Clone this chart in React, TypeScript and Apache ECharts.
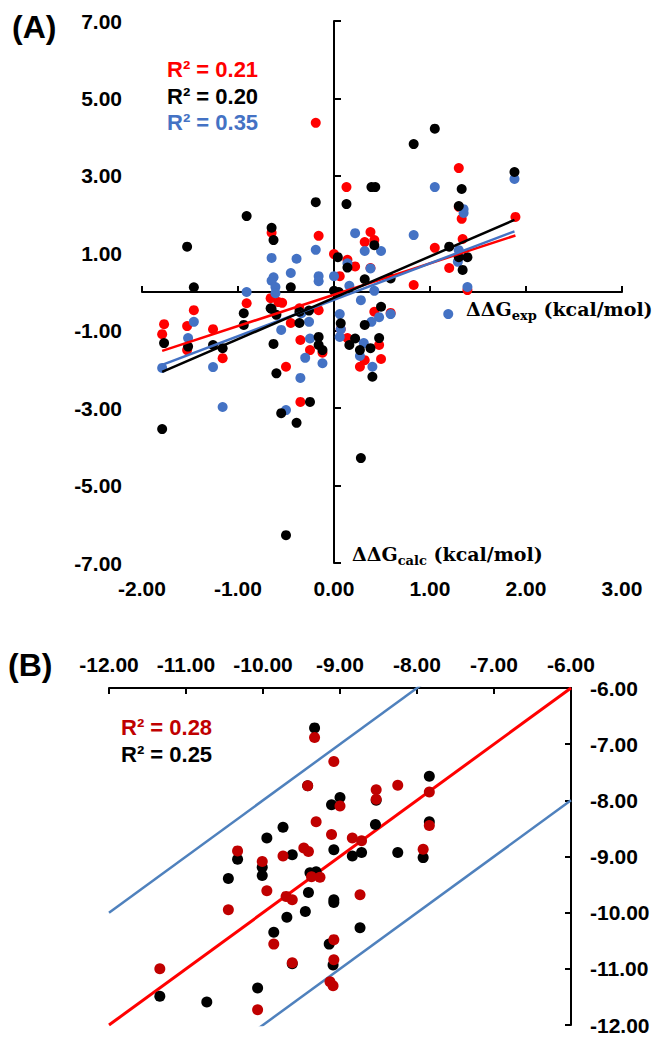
import React, { useEffect, useRef } from "react";
import * as echarts from "echarts";

// ---------- Panel A data ----------
const aXTicks = [-2, -1, 0, 1, 2, 3];
const aYTicks = [-7, -5, -3, -1, 1, 3, 5, 7];

const aRed: [number, number][] = [
  [-0.19, 4.37], [-0.65, 1.53], [-0.16, 1.45], [0.0, 0.98], [1.3, 3.2], [0.13, 2.71],
  [1.3, 2.2], [1.33, 1.89], [1.89, 1.94], [0.38, 1.55], [0.32, 1.29], [0.42, 1.34],
  [1.05, 1.14], [1.34, 1.37], [0.14, 0.83], [0.22, 0.66], [0.38, 0.62], [0.06, 0.41],
  [0.83, 0.18], [1.39, 0.05], [1.2, 0.62], [-0.91, -0.29], [-1.46, -0.47], [-1.77, -0.83],
  [-1.79, -1.09], [-1.53, -0.88], [-1.53, -1.5], [-1.26, -0.96], [-1.16, -1.71],
  [-0.66, -0.16], [-0.58, -0.26], [-0.54, -0.28], [-0.45, -0.8], [-0.5, -1.93],
  [-0.35, -2.84], [-0.35, -1.24], [-0.25, -1.5], [-0.12, -1.57], [-0.16, -0.47],
  [0.07, -0.96], [0.42, -0.51], [0.59, -0.54], [0.14, -1.19], [0.27, -1.93],
  [0.32, -1.76], [0.47, -1.37], [0.49, -1.73], [-0.36, -0.42], [0.16, -1.24],
];
const aBlack: [number, number][] = [
  [-0.19, 2.32], [-0.91, 1.96], [-1.53, 1.17], [-1.46, 0.12], [-0.65, 1.66], [-0.63, 1.34],
  [0.04, 0.9], [-0.45, 0.12], [1.05, 4.22], [0.83, 3.82], [1.88, 3.1], [0.13, 2.27],
  [0.39, 2.71], [0.43, 2.71], [1.33, 2.66], [1.3, 2.22], [0.42, 1.21], [1.2, 1.17],
  [1.3, 0.9], [1.39, 0.9], [1.34, 0.57], [0.14, 0.63], [0.32, 0.33], [0.59, 0.35],
  [-0.94, -0.55], [-0.94, -0.85], [-1.77, -1.32], [-1.52, -1.41], [-1.26, -1.37],
  [-1.16, -1.45], [-1.79, -3.54], [-0.66, -0.42], [-0.6, -0.59], [-0.63, -1.34],
  [-0.6, -2.1], [-0.25, -2.84], [-0.55, -3.13], [-0.39, -3.38], [-0.5, -6.28],
  [-0.16, -1.16], [-0.16, -1.37], [-0.12, -1.5], [-0.26, -0.48], [-0.36, -0.8],
  [-0.36, -0.51], [0.07, -0.81], [0.49, -0.38], [0.32, -0.85], [0.16, -1.37],
  [0.22, -1.2], [0.27, -1.5], [0.38, -1.45], [0.4, -2.19], [0.47, -1.19], [0.28, -4.29],
  [0.0, 0.03], [0.05, 0.0], [-0.65, -0.44],
];
const aBlue: [number, number][] = [
  [-0.19, 1.09], [-0.65, 0.88], [-0.39, 0.86], [-0.45, 0.49], [-0.63, 0.38], [-0.65, 0.29],
  [-0.16, 0.41], [-0.16, 0.28], [0.0, 0.41], [-0.61, 0.13], [-0.61, -0.03], [-0.91, 0.0],
  [1.88, 2.92], [1.05, 2.71], [1.35, 2.14], [1.35, 2.04], [0.22, 1.52], [0.83, 1.47],
  [0.32, 1.06], [0.49, 1.06], [1.3, 1.08], [1.29, 0.78], [0.14, 0.74], [0.38, 0.61],
  [0.16, 0.16], [0.42, 0.03], [1.39, 0.13], [1.19, -0.57], [-1.46, -0.77], [-1.79, -1.96],
  [-1.52, -1.19], [-1.26, -1.94], [-1.16, -2.97], [-0.55, -0.98], [-0.35, -2.22],
  [-0.5, -3.05], [-0.25, -1.2], [-0.3, -1.7], [-0.12, -1.84], [-0.26, -0.77],
  [-0.34, -0.55], [0.06, -0.57], [0.07, -0.96], [0.06, -1.16], [0.27, -1.65],
  [0.31, -1.32], [0.4, -1.93], [0.59, -0.57], [0.47, -0.65], [0.39, -0.77],
  [0.28, -0.21],
];
// trend lines [slope, intercept]
const aTrendRed = [0.81, -0.07];
const aTrendBlack = [1.07, -0.15];
const aTrendBlue = [0.94, -0.2];
const aR2 = ["0.21", "0.20", "0.35"];

// ---------- Panel B data ----------
const bTicks = [-12, -11, -10, -9, -8, -7, -6];
const bRed: [number, number][] = [
  [-9.33, -6.88], [-9.08, -7.31], [-9.42, -7.74], [-9.0, -8.1], [-8.53, -7.81],
  [-8.53, -7.98], [-7.84, -7.85], [-8.25, -7.73], [-7.84, -8.45], [-7.92, -8.87],
  [-8.72, -8.72], [-8.84, -8.67], [-9.11, -8.61], [-9.31, -8.38], [-10.33, -8.9],
  [-10.01, -9.09], [-10.45, -9.95], [-9.74, -8.99], [-9.47, -8.85], [-9.41, -8.91],
  [-9.37, -9.36], [-9.26, -9.37], [-9.95, -9.61], [-9.7, -9.71], [-9.62, -9.77],
  [-8.74, -9.68], [-9.86, -10.56], [-9.08, -10.48], [-9.62, -10.89], [-9.08, -10.84],
  [-9.13, -11.23], [-9.09, -11.3], [-11.34, -11.0], [-10.07, -11.73],
];
const bBlack: [number, number][] = [
  [-9.33, -6.71], [-9.42, -7.74], [-9.0, -7.95], [-9.11, -8.08], [-8.53, -8.0],
  [-7.84, -7.57], [-8.54, -8.43], [-7.84, -8.38], [-7.92, -9.02], [-8.25, -8.93],
  [-8.84, -8.99], [-8.72, -8.93], [-9.08, -8.88], [-9.74, -8.48], [-9.95, -8.67],
  [-10.33, -9.05], [-10.01, -9.19], [-10.01, -9.34], [-10.45, -9.39], [-9.62, -8.97],
  [-9.39, -9.29], [-9.31, -9.27], [-9.41, -9.64], [-9.08, -9.77], [-9.08, -9.82],
  [-9.69, -10.08], [-9.45, -9.98], [-9.86, -10.35], [-8.74, -10.27], [-9.14, -10.56],
  [-9.62, -10.91], [-9.09, -10.93], [-11.34, -11.49], [-10.73, -11.59], [-10.07, -11.34],
];
const bLineOffsets = [0, 2, -2]; // y = x + offset
const bR2 = ["0.28", "0.25"];

const RED = "#FF0000";
const BLUE = "#4472C4";
const DARKRED = "#C00000";
const LINEBLUE = "#4F81BD";
const FONT = "Liberation Sans";

function trend(data: [number, number][], t: number[]) {
  const xs = data.map((d) => d[0]);
  const x0 = Math.min(...xs);
  const x1 = Math.max(...xs);
  return [
    [x0, t[0] * x0 + t[1]],
    [x1, t[0] * x1 + t[1]],
  ];
}

const labelStyle = {
  fontFamily: FONT,
  fontWeight: "bold" as const,
  fontSize: 21,
  color: "#000",
  formatter: (v: number) => v.toFixed(2),
};

const titleRich = {
  m: { fontFamily: "DejaVu Serif", fontWeight: "bold", fontSize: 19, lineHeight: 27, fill: "#000" },
  s: { fontFamily: "DejaVu Serif", fontWeight: "bold", fontSize: 13, verticalAlign: "bottom", fill: "#000" },
};

export default function App() {
  const ref = useRef<HTMLDivElement>(null);
  useEffect(() => {
    const chart = echarts.init(ref.current!, null, { renderer: "svg" });
    const bMin = bTicks[0];
    const bMax = bTicks[bTicks.length - 1];
    const option: any = {
      animation: false,
      backgroundColor: "#fff",
      grid: [
        { left: 142, top: 21, width: 480, height: 542 },
        { left: 109, top: 688, width: 462, height: 337 },
      ],
      xAxis: [
        {
          gridIndex: 0, type: "value",
          min: aXTicks[0], max: aXTicks[aXTicks.length - 1], interval: 1,
          axisLine: { onZero: true, onZeroAxisIndex: 0, lineStyle: { color: "#000", width: 2 } },
          axisTick: { show: true, inside: true, length: 6, lineStyle: { color: "#000", width: 2 } },
          axisLabel: { show: false },
          splitLine: { show: false },
        },
        {
          gridIndex: 0, type: "value", position: "bottom",
          min: aXTicks[0], max: aXTicks[aXTicks.length - 1], interval: 1,
          axisLine: { show: false, onZero: false },
          axisTick: { show: false },
          axisLabel: { ...labelStyle, margin: 15 },
          splitLine: { show: false },
        },
        {
          gridIndex: 1, type: "value", position: "top",
          min: bMin, max: bMax, interval: 1,
          axisLine: { onZero: false, lineStyle: { color: "#000", width: 2 } },
          axisTick: { show: true, inside: true, length: 6, lineStyle: { color: "#000", width: 2 } },
          axisLabel: { ...labelStyle, margin: 13 },
          splitLine: { show: false },
        },
      ],
      yAxis: [
        {
          gridIndex: 0, type: "value",
          min: aYTicks[0], max: aYTicks[aYTicks.length - 1], interval: 2,
          axisLine: { show: true, onZero: true, onZeroAxisIndex: 0, lineStyle: { color: "#000", width: 2 } },
          axisTick: { show: true, inside: true, length: 7, lineStyle: { color: "#000", width: 2 } },
          axisLabel: { show: false },
          splitLine: { show: false },
        },
        {
          gridIndex: 0, type: "value", position: "left",
          min: aYTicks[0], max: aYTicks[aYTicks.length - 1], interval: 2,
          axisLine: { show: false, onZero: false },
          axisTick: { show: false },
          axisLabel: { ...labelStyle, margin: 20 },
          splitLine: { show: false },
        },
        {
          gridIndex: 1, type: "value", position: "right",
          min: bMin, max: bMax, interval: 1,
          axisLine: { show: true, onZero: false, lineStyle: { color: "#000", width: 2 } },
          axisTick: { show: true, inside: true, length: 6, lineStyle: { color: "#000", width: 2 } },
          axisLabel: { ...labelStyle, margin: 19 },
          splitLine: { show: false },
        },
      ],
      series: [
        { type: "scatter", xAxisIndex: 0, yAxisIndex: 0, data: aRed, symbolSize: 10, itemStyle: { color: RED, opacity: 1 }, z: 2 },
        { type: "scatter", xAxisIndex: 0, yAxisIndex: 0, data: aBlue, symbolSize: 10, itemStyle: { color: BLUE, opacity: 1 }, z: 2 },
        { type: "scatter", xAxisIndex: 0, yAxisIndex: 0, data: aBlack, symbolSize: 10, itemStyle: { color: "#000", opacity: 1 }, z: 2 },
        { type: "line", xAxisIndex: 0, yAxisIndex: 0, data: trend(aRed, aTrendRed), symbol: "none", lineStyle: { color: RED, width: 2.5 }, z: 3 },
        { type: "line", xAxisIndex: 0, yAxisIndex: 0, data: trend(aBlue, aTrendBlue), symbol: "none", lineStyle: { color: BLUE, width: 2.5 }, z: 3 },
        { type: "line", xAxisIndex: 0, yAxisIndex: 0, data: trend(aBlack, aTrendBlack), symbol: "none", lineStyle: { color: "#000", width: 2.5 }, z: 3 },
        ...bLineOffsets.map((off, i) => ({
          type: "line", xAxisIndex: 2, yAxisIndex: 2, clip: true, symbol: "none",
          data: [[bMin, bMin + off], [bMax, bMax + off]],
          lineStyle: { color: i === 0 ? RED : LINEBLUE, width: i === 0 ? 3 : 2.5 },
          z: 1,
        })),
        { type: "scatter", xAxisIndex: 2, yAxisIndex: 2, data: bBlack, symbolSize: 11, itemStyle: { color: "#000", opacity: 1 }, z: 2 },
        { type: "scatter", xAxisIndex: 2, yAxisIndex: 2, data: bRed, symbolSize: 11, itemStyle: { color: DARKRED, opacity: 1 }, z: 2 },
      ],
      graphic: [
        { type: "text", left: 12, top: 11, style: { text: "(A)", fontFamily: FONT, fontWeight: "bold", fontSize: 32, fill: "#000" } },
        { type: "text", left: 8, top: 649, style: { text: "(B)", fontFamily: FONT, fontWeight: "bold", fontSize: 32, fill: "#000" } },
        { type: "text", left: 167, top: 58, style: { text: "R\u00B2 = " + aR2[0], fontFamily: FONT, fontWeight: "bold", fontSize: 22, fill: RED } },
        { type: "text", left: 167, top: 85, style: { text: "R\u00B2 = " + aR2[1], fontFamily: FONT, fontWeight: "bold", fontSize: 22, fill: "#000" } },
        { type: "text", left: 167, top: 111, style: { text: "R\u00B2 = " + aR2[2], fontFamily: FONT, fontWeight: "bold", fontSize: 22, fill: BLUE } },
        { type: "text", left: 121, top: 716, style: { text: "R\u00B2 = " + bR2[0], fontFamily: FONT, fontWeight: "bold", fontSize: 22, fill: DARKRED } },
        { type: "text", left: 121, top: 743, style: { text: "R\u00B2 = " + bR2[1], fontFamily: FONT, fontWeight: "bold", fontSize: 22, fill: "#000" } },
        {
          type: "text", left: 466, top: 299,
          style: { text: "{m|\u0394\u0394G}{s|exp}{m| (kcal/mol)}", rich: titleRich },
        },
        {
          type: "text", left: 352, top: 544,
          style: { text: "{m|\u0394\u0394G}{s|calc}{m| (kcal/mol)}", rich: titleRich },
        },
      ],
    };
    chart.setOption(option);
    return () => chart.dispose();
  }, []);
  return (
    <div
      ref={ref}
      style={{ position: "absolute", left: 0, top: 0, width: 663, height: 1050 }}
    />
  );
}
